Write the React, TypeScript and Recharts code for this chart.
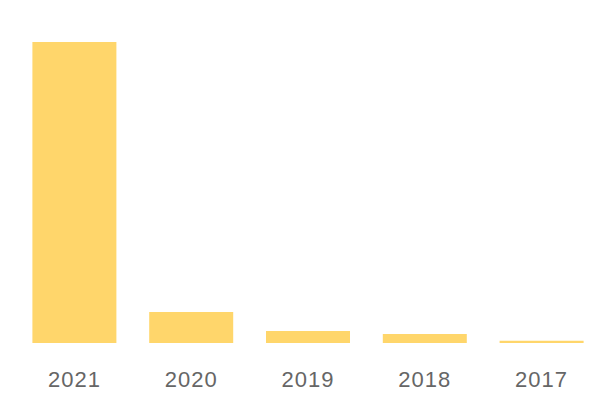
import { Bar, BarChart, XAxis, YAxis } from "recharts";

const YEARS = ["2021", "2020", "2019", "2018", "2017"];
const VALUES = [301, 31, 12, 9, 2.3];

const data = YEARS.map((year, i) => ({ year, value: VALUES[i] }));

export default function App() {
  return (
    <div style={{ position: "absolute", left: 0, top: 0, width: 600, height: 400, background: "#fff" }}>
      <BarChart width={600} height={400} data={data} margin={{ top: 42, right: 0, bottom: 0, left: 16 }} barCategoryGap={16.4}>
        <XAxis
          dataKey="year"
          height={57}
          tickLine={false}
          axisLine={false}
          tickSize={0}
          tickMargin={28}
          tick={{ fontSize: 22, fill: "#666", fontFamily: "Liberation Sans, Arial, sans-serif", letterSpacing: 1 }}
        />
        <YAxis hide domain={[0, 301]} />
        <Bar dataKey="value" fill="#ffd66b" isAnimationActive={false} />
      </BarChart>
    </div>
  );
}
